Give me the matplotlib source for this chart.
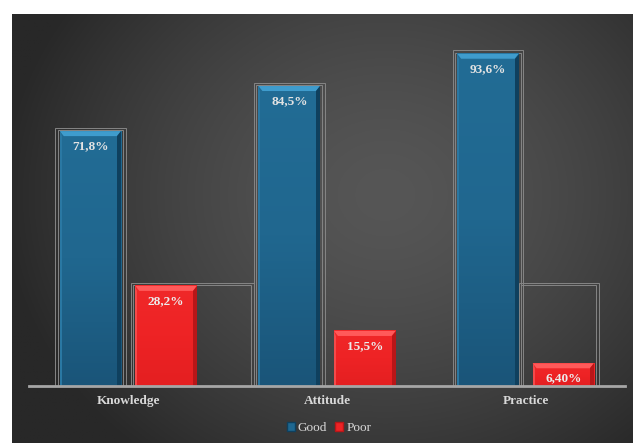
import numpy as np
import matplotlib
matplotlib.use("Agg")
import matplotlib.pyplot as plt
from matplotlib.patches import Rectangle, Polygon, Patch
from matplotlib.colors import LinearSegmentedColormap

# ---- data ----
categories = ["Knowledge", "Attitude", "Practice"]
good = [71.8, 84.5, 93.6]
poor = [28.2, 15.5, 6.4]
good_labels = ["71,8%", "84,5%", "93,6%"]
poor_labels = ["28,2%", "15,5%", "6,40%"]
series_names = ["Good", "Poor"]

W, H = 633, 443
fig = plt.figure(figsize=(W / 100, H / 100), dpi=100)
fig.patch.set_facecolor("white")

# ---- radial gradient background ----
bg = fig.add_axes([12 / W, 0, (W - 12) / W, (H - 14) / H])
bg.set_axis_off()
ny, nx = 300, 430
yy, xx = np.mgrid[0:ny, 0:nx]
cx, cy = 0.60 * nx, 0.42 * ny
d = np.sqrt(((xx - cx) / (0.62 * nx)) ** 2 + ((yy - cy) / (0.78 * ny)) ** 2)
d = np.clip(d, 0, 1)
light, dark = 0x56 / 255, 0x28 / 255
v = light - (light - dark) * d ** 1.5
img = np.dstack([v, v, v])
bg.imshow(img, aspect="auto", extent=[0, 1, 0, 1], origin="upper")
bg.set_xlim(0, 1)
bg.set_ylim(0, 1)

# ---- main axes ----
x0px, x1px, y0px, y1px = 29, 625, 386, 31
ax = fig.add_axes([x0px / W, (H - y0px) / H, (x1px - x0px) / W, (y0px - y1px) / H])
ax.set_facecolor("none")
ax.set_xlim(-0.5, 2.5)
ax.set_ylim(0, 100)
for s in ["top", "right", "left"]:
    ax.spines[s].set_visible(False)
ax.spines["bottom"].set_color("#a6a6a6")
ax.spines["bottom"].set_linewidth(2.0)
ax.spines["bottom"].set_zorder(6)
ax.set_yticks([])
x = np.arange(len(categories))
ax.set_xticks(x)
ax.set_xticklabels(categories, fontfamily="Liberation Serif", fontweight="bold",
                   fontsize=9.5, color="#d9d9d9")
ax.tick_params(axis="x", length=0, pad=6.5)

px_x = 3.0 / (x1px - x0px)      # data units per pixel (x)
px_y = 100.0 / (y0px - y1px)    # data units per pixel (y)

width = 0.31
off = 0.19

blue_cmap = LinearSegmentedColormap.from_list("b", ["#1a5579", "#20678f", "#226c95"])
red_cmap = LinearSegmentedColormap.from_list("r", ["#e41f21", "#ee2325", "#f02829"])


def draw_bar(xc, val, cmap, top_col, right_col, left_col):
    xl, xr = xc - width / 2, xc + width / 2
    grad = np.linspace(0, 1, 100).reshape(-1, 1)
    ax.imshow(grad, cmap=cmap, aspect="auto", extent=[xl, xr, 0, val],
              origin="lower", zorder=3)
    s, t = 4 * px_x, 5 * px_y
    ax.add_patch(Polygon([(xl, val), (xr, val), (xr - s, val - t), (xl + s, val - t)],
                         closed=True, facecolor=top_col, edgecolor="none", zorder=4))
    ax.add_patch(Polygon([(xr, val), (xr, 0), (xr - s, 0), (xr - s, val - t)],
                         closed=True, facecolor=right_col, edgecolor="none", zorder=4))
    ax.add_patch(Polygon([(xl, val), (xl, 0), (xl + 2 * px_x, 0), (xl + 2 * px_x, val - t)],
                         closed=True, facecolor=left_col, edgecolor="none", zorder=4))


def frame(xl, xr, top):
    for k in (0, 2.5):
        ax.add_patch(Rectangle((xl + k * px_x, 0), (xr - xl) - 2 * k * px_x, top - k * px_y,
                               fill=False, edgecolor="#858585", linewidth=0.7, zorder=2))


# decorative frames behind bars
pad_x, pad_y = 4.5 * px_x, 3.5 * px_y
for i in range(len(categories)):
    gx = x[i] - off
    frame(gx - width / 2 - pad_x, gx + width / 2 + pad_x, good[i] + pad_y)
poor_frame_top = poor[0] + 3 * px_y
# Knowledge poor frame reaches over to the next group's frame
frame(x[0] + off - width / 2 - pad_x, x[1] - off - width / 2 - pad_x, poor_frame_top)
# Practice poor frame starts at the good bar's right edge
frame(x[2] - off + width / 2, x[2] + off + width / 2 + pad_x, poor_frame_top)

for i in range(len(categories)):
    draw_bar(x[i] - off, good[i], blue_cmap, "#3f9ccd", "#0f405e", "#2a78a3")
    draw_bar(x[i] + off, poor[i], red_cmap, "#ff5a5a", "#b81618", "#f44a4a")
    ax.annotate(good_labels[i], (x[i] - off, good[i]), xytext=(0, -11),
                textcoords="offset points", ha="center", va="center",
                fontfamily="Liberation Serif", fontweight="bold", fontsize=9.5,
                color="#e3e3e3", zorder=7)
    ax.annotate(poor_labels[i], (x[i] + off, poor[i]), xytext=(0, -11),
                textcoords="offset points", ha="center", va="center",
                fontfamily="Liberation Serif", fontweight="bold", fontsize=9.5,
                color="#ececec", zorder=7)

# ---- legend ----
handles = [Patch(facecolor="#1f6891", edgecolor="#0f405e", label=series_names[0]),
           Patch(facecolor="#ee2325", edgecolor="#b81618", label=series_names[1])]
leg = fig.legend(handles=handles, loc="center", bbox_to_anchor=(329 / W, (H - 428) / H),
                 ncol=2, frameon=False, handlelength=0.6, handleheight=0.6,
                 handletextpad=0.25, columnspacing=0.6,
                 prop={"family": "Liberation Serif", "size": 9.5})
for t in leg.get_texts():
    t.set_color("#d9d9d9")

fig.savefig("out.png", dpi=100)
